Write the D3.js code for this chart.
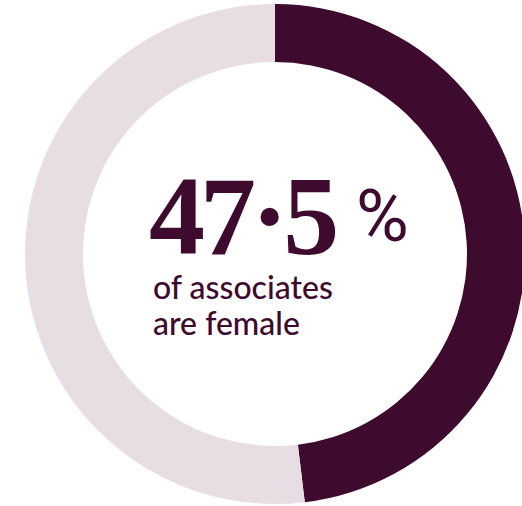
<!DOCTYPE html>
<html>
<head>
<meta charset="utf-8">
<script src="https://cdn.jsdelivr.net/npm/d3@7"></script>
<style>
  html, body { margin: 0; padding: 0; background: #fff; }
</style>
</head>
<body>
<div class="donut"></div>
<script>
// data
const categories = ["female", "other"];
const shares = [48.1, 51.9];          // arc split as drawn
const headline = "47\u00B75";          // 47.5 with a raised dot
const headlineUnit = "%";
const captionLines = ["of associates", "are female"];

const dark = "#3e0a2e";
const light = "#e6dee3";

const width = 522;
const height = 506;
const cx = 275, cy = 254;
const outerR = 250, innerR = 192;

const svg = d3.select('.donut')
    .append('svg')
    .attr('width', width)
    .attr('height', height);

const pie = d3.pie().sort(null).value(d => d);
const arc = d3.arc().innerRadius(innerR).outerRadius(outerR);
const color = d3.scaleOrdinal().domain(categories).range([dark, light]);

const g = svg.append('g').attr('transform', `translate(${cx},${cy})`);

g.selectAll('path')
    .data(pie(shares))
    .enter().append('path')
    .attr('d', arc)
    .attr('fill', (d, i) => color(categories[i]));

// big number
svg.append('text')
    .attr('x', 149)
    .attr('y', 254)
    .attr('fill', dark)
    .attr('font-family', '"Liberation Serif", "DejaVu Serif", serif')
    .attr('font-weight', 'bold')
    .attr('font-size', '112px')
    .attr('letter-spacing', '-5px')
    .text(headline);

svg.append('text')
    .attr('x', 356)
    .attr('y', 241)
    .attr('fill', dark)
    .attr('font-family', 'Roboto, sans-serif')
    .attr('font-weight', 400)
    .attr('font-size', '72px')
    .text(headlineUnit);

// caption
svg.append('g')
    .selectAll('text')
    .data(captionLines)
    .enter().append('text')
    .attr('x', 153)
    .attr('y', (d, i) => 299 + i * 36)
    .attr('fill', dark)
    .attr('font-family', 'Lato, sans-serif')
    .attr('font-weight', 500)
    .attr('font-size', '32px')
    .text(d => d);
</script>
</body>
</html>
